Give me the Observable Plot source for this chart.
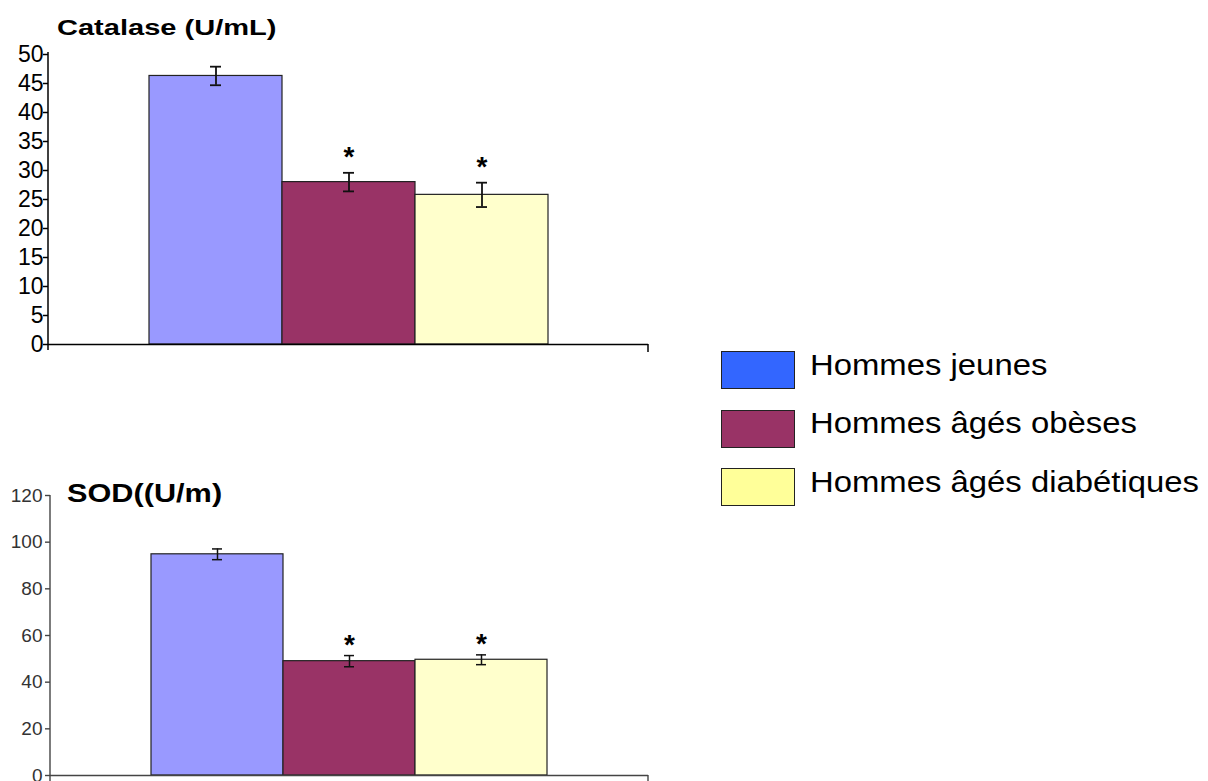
<!DOCTYPE html>
<html>
<head>
<meta charset="utf-8">
<script src="https://cdn.jsdelivr.net/npm/d3@7"></script>
<script src="https://cdn.jsdelivr.net/npm/@observablehq/plot@0.6"></script>
<style>
  html, body { margin: 0; padding: 0; background: #fff; }
  #root { position: relative; width: 1208px; height: 781px; overflow: hidden; background: #fff; font-family: "Liberation Sans", Arial, sans-serif; }
  .panel { position: absolute; left: 0; }
  .panel svg { background: transparent; overflow: visible; }
  .title { position: absolute; font-weight: bold; color: #000; white-space: nowrap; transform-origin: left top; z-index: 2; }
  .lg-box { position: absolute; width: 72px; height: 36px; border: 1.5px solid #222; }
  .lg-text { position: absolute; font-size: 30px; line-height: 30px; color: #000; white-space: nowrap; transform: scaleX(1.095); transform-origin: left top; }
</style>
</head>
<body>
<div id="root"></div>
<script>
// ---- data ----
const groups = ["Hommes jeunes", "Hommes âgés obèses", "Hommes âgés diabétiques"];
const catalaseMean = [46.3, 28.0, 25.8];
const catalaseErr = [1.6, 1.6, 2.1];
const catalaseSig = ["", "*", "*"];
const catalaseTicks = [0, 5, 10, 15, 20, 25, 30, 35, 40, 45, 50];
const sodMean = [94.8, 49.0, 49.6];
const sodErr = [2.3, 2.4, 2.1];
const sodSig = ["", "*", "*"];
const sodTicks = [0, 20, 40, 60, 80, 100, 120];
const barColors = ["#9999FF", "#993366", "#FFFFCC"];
const legendColors = ["#3366FF", "#993366", "#FFFF99"];
const titles = ["Catalase (U/mL)", "SOD((U/m)"];

const root = document.getElementById("root");

function rowsOf(mean, err, sig) {
  return groups.map((g, i) => ({group: g, mean: mean[i], lo: mean[i] - err[i], hi: mean[i] + err[i], sig: sig[i]}));
}

// custom mark: y-axis line and right-end category tick
function axisLines(color, width, tickLen) {
  return (index, scales, values, dimensions) => {
    const ns = "http://www.w3.org/2000/svg";
    const g = document.createElementNS(ns, "g");
    const {width: W, height: H, marginLeft, marginRight, marginTop, marginBottom} = dimensions;
    const y0 = scales.y(0);
    const l1 = document.createElementNS(ns, "line");
    l1.setAttribute("x1", marginLeft); l1.setAttribute("x2", marginLeft);
    l1.setAttribute("y1", marginTop); l1.setAttribute("y2", H - marginBottom);
    const xr = W - marginRight;
    const l2 = document.createElementNS(ns, "line");
    l2.setAttribute("x1", xr); l2.setAttribute("x2", xr);
    l2.setAttribute("y1", y0); l2.setAttribute("y2", y0 + tickLen);
    for (const l of [l1, l2]) { l.setAttribute("stroke", color); l.setAttribute("stroke-width", width); g.appendChild(l); }
    return g;
  };
}

function chart({rows, domain, ticks, width, height, mt, mb, ml, mr, insetTop, insetBottom, fontSize, textColor, lineColor, lineW, tickPadding, starDy, errW}) {
  return Plot.plot({
    width, height, marginTop: mt, marginBottom: mb, marginLeft: ml, marginRight: mr,
    style: {fontFamily: '"Liberation Sans", Arial, sans-serif', fontSize: fontSize + "px", color: textColor, background: "transparent", overflow: "visible"},
    x: {type: "band", domain: groups, paddingInner: 0, paddingOuter: 0.75, axis: null},
    y: {domain, insetTop, insetBottom, axis: null},
    color: {type: "ordinal", domain: groups, range: barColors},
    marks: [
      Plot.barY(rows, {x: "group", y: "mean", fill: "group", stroke: "#222", strokeWidth: 1.2}),
      Plot.ruleY([0], {stroke: lineColor, strokeWidth: lineW}),
      axisLines(lineColor, lineW, 8),
      Plot.axisY({ticks, tickSize: 5, tickPadding, tickFormat: d => String(d), stroke: lineColor, strokeWidth: lineW, fontSize, fill: textColor}),
      Plot.ruleX(rows, {x: "group", y1: "lo", y2: "hi", stroke: "#111", strokeWidth: errW}),
      Plot.tickY(rows, {x: "group", y: "lo", stroke: "#111", strokeWidth: errW, insetLeft: 61, insetRight: 61}),
      Plot.tickY(rows, {x: "group", y: "hi", stroke: "#111", strokeWidth: errW, insetLeft: 61, insetRight: 61}),
      Plot.text(rows, {x: "group", y: "hi", text: "sig", dy: starDy, fontSize: 28, fontWeight: "bold", fill: "#000"})
    ]
  });
}

// top panel: catalase
const topDiv = document.createElement("div");
topDiv.className = "panel";
topDiv.style.top = "0px";
topDiv.appendChild(chart({
  rows: rowsOf(catalaseMean, catalaseErr, catalaseSig), domain: [0, 50], ticks: catalaseTicks,
  width: 660, height: 360, mt: 52, mb: 10, ml: 48, mr: 12, insetTop: 2, insetBottom: 6,
  fontSize: 23, textColor: "#000", lineColor: "#000", lineW: 1.5, tickPadding: 0, starDy: -16, errW: 1.8
}));
root.appendChild(topDiv);

// bottom panel: SOD
const botDiv = document.createElement("div");
botDiv.className = "panel";
botDiv.style.top = "440px";
botDiv.appendChild(chart({
  rows: rowsOf(sodMean, sodErr, sodSig), domain: [0, 120], ticks: sodTicks,
  width: 660, height: 341, mt: 55, mb: 0, ml: 50, mr: 12, insetTop: 0, insetBottom: 6,
  fontSize: 19, textColor: "#333", lineColor: "#444", lineW: 1.4, tickPadding: 3, starDy: -11, errW: 1.5
}));
root.appendChild(botDiv);

// titles
const t1 = document.createElement("div");
t1.className = "title";
t1.textContent = titles[0];
Object.assign(t1.style, {left: "57px", top: "17px", fontSize: "22px", lineHeight: "22px", transform: "scaleX(1.32)"});
root.appendChild(t1);
const t2 = document.createElement("div");
t2.className = "title";
t2.textContent = titles[1];
Object.assign(t2.style, {left: "67px", top: "480px", fontSize: "26px", lineHeight: "26px", transform: "scaleX(1.18)"});
root.appendChild(t2);

// legend
groups.forEach((g, i) => {
  const top = 351 + 58.5 * i;
  const box = document.createElement("div");
  box.className = "lg-box";
  Object.assign(box.style, {left: "721px", top: top + "px", background: legendColors[i]});
  root.appendChild(box);
  const tx = document.createElement("div");
  tx.className = "lg-text";
  tx.textContent = g;
  Object.assign(tx.style, {left: "810px", top: (top - 1.5) + "px"});
  root.appendChild(tx);
});
</script>
</body>
</html>
